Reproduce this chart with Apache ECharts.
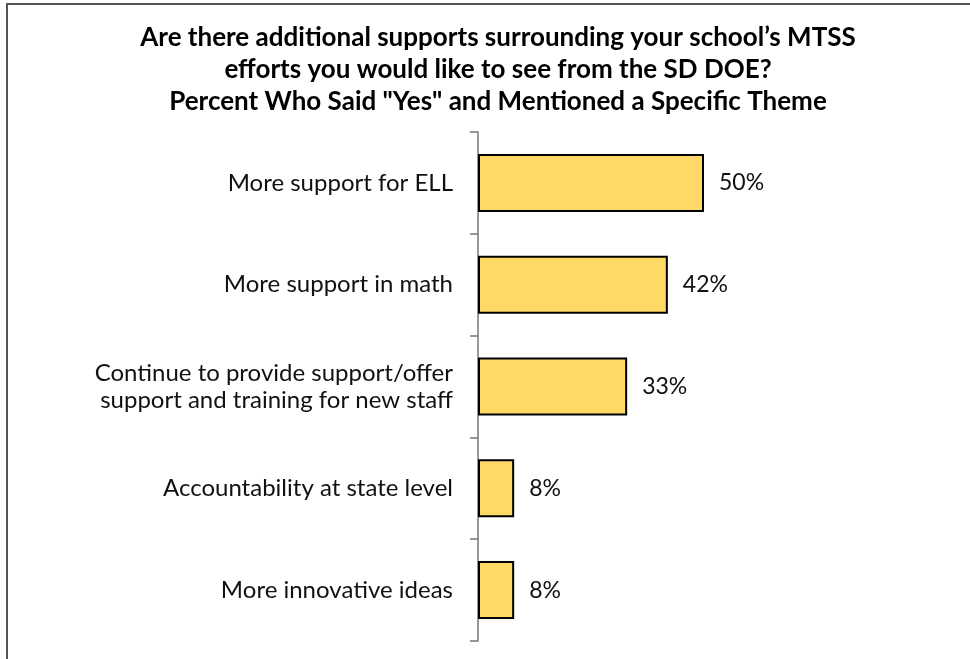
<!DOCTYPE html>
<html>
<head>
<meta charset="utf-8">
<script src="https://cdn.jsdelivr.net/npm/echarts@6/dist/echarts.min.js"></script>
<style>
  html, body { margin: 0; padding: 0; background: #fff; }
  #chart { width: 970px; height: 659px; }
</style>
</head>
<body>
<div id="chart"></div>
<script>
// themes mentioned, top to bottom
const categories = [
    'More support for ELL',
    'More support in math',
    'Continue to provide support/offer\nsupport and training for new staff',
    'Accountability at state level',
    'More innovative ideas'
];
const percentYes = [50, 42, 33, 8, 8];

const titleLines = [
    'Are there additional supports surrounding your school\u2019s MTSS',
    'efforts you would like to see from the SD DOE?',
    'Percent Who Said "Yes" and Mentioned a Specific Theme'
];

const myChart = echarts.init(document.getElementById('chart'));

const option = {
    backgroundColor: '#fff',
    textStyle: { fontFamily: 'Lato, "Open Sans", sans-serif' },
    title: {
        text: titleLines.join('\n'),
        left: 493,
        top: 17,
        textAlign: 'center',
        textStyle: {
            fontSize: 26,
            fontWeight: 'bold',
            color: '#000',
            lineHeight: 32,
            fontFamily: 'Lato, "Open Sans", sans-serif'
        }
    },
    graphic: [{
        type: 'rect',
        shape: { x: 7, y: 4, width: 1000, height: 700 },
        style: { fill: 'none', stroke: '#555', lineWidth: 2 },
        silent: true
    }],
    grid: {
        left: 478,
        right: 40,
        top: 132,
        bottom: 18
    },
    xAxis: {
        type: 'value',
        min: 0,
        max: 100,
        show: false
    },
    yAxis: {
        type: 'category',
        inverse: true,
        data: categories,
        axisLine: { show: true, lineStyle: { color: '#777', width: 1.5 } },
        axisTick: { show: true, length: 8, lineStyle: { color: '#777', width: 1.5 } },
        axisLabel: {
            margin: 25,
            fontSize: 24,
            color: '#111',
            lineHeight: 27,
            align: 'right'
        }
    },
    series: [{
        type: 'bar',
        data: percentYes,
        barWidth: 58,
        itemStyle: {
            color: '#FFD966',
            borderColor: '#000',
            borderWidth: 2
        },
        label: {
            show: true,
            position: 'right',
            distance: 15,
            fontSize: 23,
            color: '#111',
            formatter: '{c}%'
        }
    }]
};

myChart.setOption(option);

window.addEventListener('resize', () => {
    myChart.resize();
});
</script>
</body>
</html>
